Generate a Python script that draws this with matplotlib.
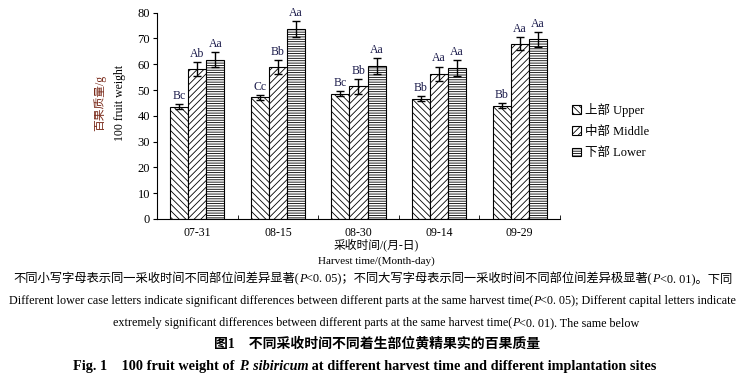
import matplotlib
matplotlib.use('Agg')
import matplotlib.pyplot as plt
import numpy as np
from matplotlib.patches import Patch

plt.rcParams['font.family'] = ['Liberation Serif', 'Noto Sans CJK SC']
plt.rcParams['hatch.linewidth'] = 0.6

# 数据
dates = ['07-31', '08-15', '08-30', '09-14', '09-29']
parts = ['上部 Upper', '中部 Middle', '下部 Lower']
upper = [43.6, 47.2, 48.6, 46.6, 43.9]
middle = [58.0, 59.1, 51.4, 56.3, 68.0]
lower = [61.8, 73.7, 59.4, 58.6, 69.6]
upper_err = [1.0, 1.0, 1.0, 1.0, 1.0]
middle_err = [2.7, 2.7, 2.8, 2.8, 2.5]
lower_err = [2.9, 3.0, 3.0, 3.0, 3.0]
upper_lab = ['Bc', 'Cc', 'Bc', 'Bb', 'Bb']
middle_lab = ['Ab', 'Bb', 'Bb', 'Aa', 'Aa']
lower_lab = ['Aa', 'Aa', 'Aa', 'Aa', 'Aa']

fig = plt.figure(figsize=(7.45, 3.8), dpi=100)
ax = fig.add_axes([0.2107, 0.4237, 0.541, 0.543])

x = np.arange(len(dates))
w = 0.225
hatches = ['\\\\\\\\\\', '/////', '-------']
series = [(upper, upper_err, upper_lab), (middle, middle_err, middle_lab),
          (lower, lower_err, lower_lab)]

for i, (vals, errs, labs) in enumerate(series):
    pos = x + (i - 1) * w
    ax.bar(pos, vals, w, color='white', edgecolor='black', linewidth=0.8,
           hatch=hatches[i])
    ax.errorbar(pos, vals, yerr=errs, fmt='none', ecolor='black',
                elinewidth=1.0, capsize=3, capthick=1.0)
    for px, v, e, t in zip(pos, vals, errs, labs):
        ax.text(px, v + e + 0.8, t, ha='center', va='bottom', fontsize=8.5,
                color='#1a1a4a')

ax.set_xlim(-0.5, len(dates) - 0.5)
ax.set_ylim(0, 80)
ax.set_yticks(range(0, 81, 10))
ax.set_xticks(x)
ax.set_xticklabels(dates, fontsize=8.5)
ax.set_xticks(np.arange(0.5, len(dates), 1), minor=True)
ax.tick_params(axis='x', which='major', length=0, pad=6)
ax.tick_params(axis='x', which='minor', direction='in', length=3)
ax.tick_params(axis='y', direction='out', length=3, labelsize=9, pad=2)
ax.spines['top'].set_visible(False)
ax.spines['right'].set_visible(False)

# y 轴标题
fig.text(0.134, 0.73, '百果质量/g', rotation=90, ha='center', va='center',
         fontsize=8.5, color='#7a2a1a')
fig.text(0.161, 0.73, '100 fruit weight', rotation=90, ha='center', va='center',
         fontsize=8.5)

# x 轴标题
fig.text(0.505, 1 - 245 / 380, '采收时间/(月-日)', ha='center', va='center', fontsize=8.5)
fig.text(0.505, 1 - 261 / 380, 'Harvest time/(Month-day)', ha='center', va='center', fontsize=8)

handles = [Patch(facecolor='white', edgecolor='black', hatch=h, linewidth=0.8) for h in hatches]
fig.legend(handles, parts, loc='center left', bbox_to_anchor=(0.753, 1 - 131 / 380),
           frameon=False, fontsize=9, handlelength=0.7, handleheight=0.7,
           handletextpad=0.3, labelspacing=0.75)


def rich_line(pieces, xc, y_px, size, weight='normal'):
    # 分段写一行文字 (斜体 P)，按基线对齐，整体居中
    renderer = fig.canvas.get_renderer()
    yb = 1 - (y_px + 0.35 * size * 100 / 72) / 380
    texts = []
    for s, style in pieces:
        t = fig.text(0, yb, s, ha='left', va='baseline', fontsize=size,
                     fontstyle=style, fontweight=weight)
        texts.append(t)
    widths = [t.get_window_extent(renderer).width for t in texts]
    x0 = xc * fig.bbox.width - sum(widths) / 2
    for t, wd in zip(texts, widths):
        t.set_x(x0 / fig.bbox.width)
        x0 += wd


rich_line([('不同小写字母表示同一采收时间不同部位间差异显著(', 'normal'), ('P', 'italic'),
           ('<0. 05)；不同大写字母表示同一采收时间不同部位间差异极显著(', 'normal'),
           ('P', 'italic'), ('<0. 01)。下同', 'normal')],
          0.5, 278, 8.85)
rich_line([('Different lower case letters indicate significant differences between different '
            'parts at the same harvest time(', 'normal'), ('P', 'italic'),
           ('<0. 05); Different capital letters indicate', 'normal')],
          0.5, 300, 8.7)
rich_line([('extremely significant differences between different parts at the same harvest '
            'time(', 'normal'), ('P', 'italic'), ('<0. 01). The same below', 'normal')],
          0.505, 322, 8.7)
fig.text(0.506, 1 - 343 / 380, '图1    不同采收时间不同着生部位黄精果实的百果质量',
         ha='center', va='center', fontsize=10, fontweight='bold')
rich_line([('Fig. 1    100 fruit weight of ', 'normal'), ('P. sibiricum', 'italic'),
           (' at different harvest time and different implantation sites', 'normal')],
          0.49, 365, 10.3, weight='bold')

fig.savefig('out.png', dpi=100)
